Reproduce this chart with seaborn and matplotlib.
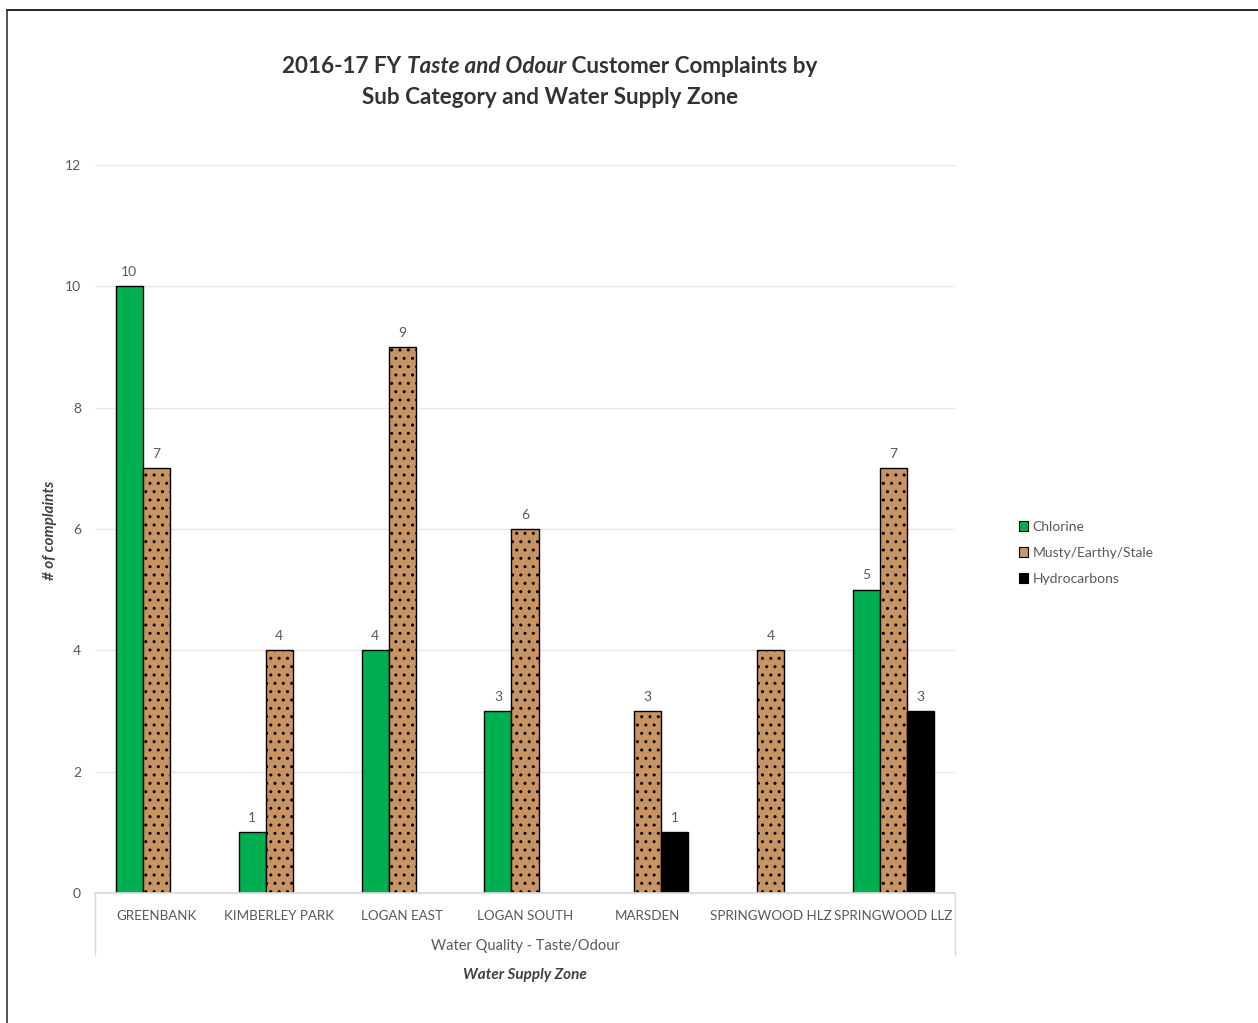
import numpy as np
import pandas as pd
import matplotlib.pyplot as plt
import seaborn as sns
from matplotlib.lines import Line2D

# data
zones = ["GREENBANK", "KIMBERLEY PARK", "LOGAN EAST", "LOGAN SOUTH",
         "MARSDEN", "SPRINGWOOD HLZ", "SPRINGWOOD LLZ"]
sub_cats = ["Chlorine", "Musty/Earthy/Stale", "Hydrocarbons"]
chlorine = [10, 1, 4, 3, None, None, 5]
musty = [7, 4, 9, 6, 3, 4, 7]
hydrocarbons = [None, None, None, None, 1, None, 3]

colors = {"Chlorine": "#00B050", "Musty/Earthy/Stale": "#C99463",
          "Hydrocarbons": "#000000"}
grey = "#595959"

rows = []
for cat, vals in zip(sub_cats, [chlorine, musty, hydrocarbons]):
    for z, v in zip(zones, vals):
        if v is not None:
            rows.append({"zone": z, "sub": cat, "count": v})
df = pd.DataFrame(rows)

sns.set_theme(style="white")
plt.rcParams['font.family'] = ['Lato', 'DejaVu Sans']

fig = plt.figure(figsize=(12.58, 10.23), dpi=100)
W, H = 1258, 1023
ax = fig.add_axes([95 / W, 1 - 893 / H, 860 / W, 728 / H])

sns.barplot(data=df, x="zone", y="count", hue="sub", order=zones,
            hue_order=sub_cats, palette=colors, width=0.66,
            edgecolor="black", linewidth=1.0, saturation=1, ax=ax,
            legend=False)

# cork-like texture on the musty bars
for bar in ax.containers[1]:
    bar.set_hatch("..")
    if hasattr(bar, "set_hatchcolor"):
        bar.set_hatchcolor("#9A6535")
        bar.set_edgecolor("black")

for cont in ax.containers:
    ax.bar_label(cont, padding=6, fontsize=10, color=grey)

ax.set_ylim(0, 12)
ax.set_yticks(range(0, 13, 2))
ax.yaxis.grid(True, color="#E6E6E6", linewidth=1)
ax.set_axisbelow(True)
for s in ["top", "right", "left"]:
    ax.spines[s].set_visible(False)
ax.spines["bottom"].set_color("#D9D9D9")
ax.tick_params(axis="y", length=0, pad=10, labelsize=10, labelcolor=grey)
ax.tick_params(axis="x", length=0, pad=12, labelsize=9.6, labelcolor=grey)
ax.set_xlabel("")
ax.set_ylabel("")
fig.text(50 / W, 1 - 530 / H, "# of complaints", rotation=90, ha="center",
         va="center", fontsize=11, fontweight="bold", fontstyle="italic",
         color="#404040")

# second level of the category axis
ax.text(0.5, -0.073, "Water Quality - Taste/Odour", transform=ax.transAxes,
        ha="center", va="center", fontsize=10.5, color=grey)
for xx in [0, 1]:
    ax.add_line(Line2D([xx, xx], [0, -0.085], transform=ax.transAxes,
                       color="#D9D9D9", linewidth=1, clip_on=False))
fig.text(525 / W, 1 - 975 / H, "Water Supply Zone", ha="center", va="center",
         fontsize=11, fontweight="bold", fontstyle="italic", color="#404040")

# legend
handles = [plt.Rectangle((0, 0), 1, 1, facecolor=colors[c], edgecolor="black",
                         linewidth=0.8) for c in sub_cats]
leg = fig.legend(handles, sub_cats, loc="center left",
                 bbox_to_anchor=(1006 / W, 1 - 553 / H), frameon=False,
                 fontsize=10, handlelength=0.7, handleheight=0.7,
                 handletextpad=0.3, labelspacing=1.0)
for t in leg.get_texts():
    t.set_color(grey)

# two-line title with italic part
parts = [("2016-17 FY ", "normal"), ("Taste and Odour", "italic"),
         (" Customer Complaints by", "normal")]
texts = [fig.text(0, 1 - 67 / H, p, fontsize=16.2, fontweight="bold",
                  fontstyle=st, color="#333333", va="center")
         for p, st in parts]
fig.canvas.draw()
r = fig.canvas.get_renderer()
widths = [t.get_window_extent(r).width for t in texts]
x0 = 550 - sum(widths) / 2
for t, w in zip(texts, widths):
    t.set_x(x0 / W)
    x0 += w
fig.text(550 / W, 1 - 97 / H, "Sub Category and Water Supply Zone",
         ha="center", va="center", fontsize=16.2, fontweight="bold",
         color="#333333")

# outer frame (top and left edges visible)
fig.add_artist(Line2D([7 / W, 1], [1 - 10 / H, 1 - 10 / H], color="black",
                      linewidth=1.2))
fig.add_artist(Line2D([7 / W, 7 / W], [0, 1 - 10 / H], color="#333333",
                      linewidth=1.2))

fig.savefig("out.png", dpi=100)
